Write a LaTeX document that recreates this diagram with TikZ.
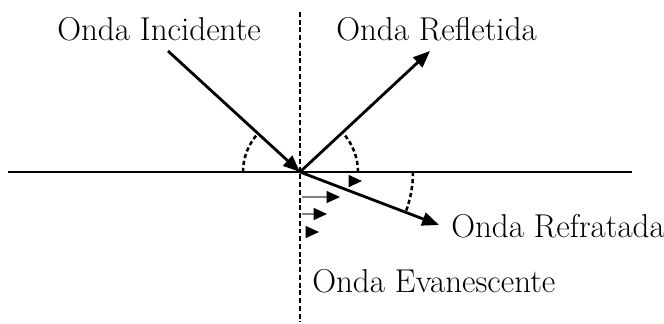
\documentclass[tikz,border=0pt]{standalone}
\usetikzlibrary{arrows.meta}

\begin{document}
\begin{tikzpicture}[
    x=0.025cm, y=-0.025cm,
    lbl/.style={font=\fontsize{23.5}{28}\selectfont, inner sep=0pt, anchor=base west},
    ray/.style={-{Triangle[length=12pt, width=9.5pt]}, line width=2pt},
    evarr/.style={-{Triangle[length=9.5pt, width=8.5pt, color=black]}, line width=0.9pt, gray},
    surf/.style={line width=1.5pt},
    normal/.style={line width=1.4pt, dash pattern=on 3.5pt off 2pt},
    angarc/.style={line width=1.8pt, dash pattern=on 3pt off 2pt},
  ]
    \useasboundingbox (0,0) rectangle (664,323);

    % === Surface and normal ===
    \coordinate (O) at (300,172);
    \coordinate (sl) at (8,172);
    \coordinate (sr) at (632,172);
    \coordinate (nt) at (300,12);
    \coordinate (nb) at (300,322);
    \draw[surf] (sl) -- (sr);
    \draw[normal] (nt) -- (nb);

    % === Rays ===
    \coordinate (inc) at (168,51);
    \coordinate (refl) at (430,51);
    \coordinate (refr) at (439,225);
    \draw[ray] (inc) -- (O);
    \draw[ray] (O) -- (refl);
    \draw[ray] (O) -- (refr);

    % Angle arcs
    \draw[angarc] (O) ++(-57,0) arc[start angle=180, end angle=222.5, radius=57];
    \draw[angarc] (O) ++(58,0) arc[start angle=0, end angle=-43, radius=58];
    \draw[angarc] (O) ++(113,0) arc[start angle=0, end angle=21, radius=113];

    % === Evanescent wave ===
    \coordinate (e1a) at (350,181);  \coordinate (e1b) at (362,181);
    \coordinate (e2a) at (302,197);  \coordinate (e2b) at (340,197);
    \coordinate (e3a) at (302,214);  \coordinate (e3b) at (327,214);
    \coordinate (e4a) at (307,232);  \coordinate (e4b) at (319,232);
    \foreach \i in {1,...,4}
      \draw[evarr] (e\i a) -- (e\i b);

    % === Labels ===
    \node[lbl] (tinc) at (57,40) {Onda Incidente};
    \node[lbl] (trefl) at (336,40) {Onda Refletida};
    \node[lbl] (trefr) at (451,237) {Onda Refratada};
    \node[lbl] (tevan) at (312,292) {Onda Evanescente};
  \end{tikzpicture}
\end{document}
